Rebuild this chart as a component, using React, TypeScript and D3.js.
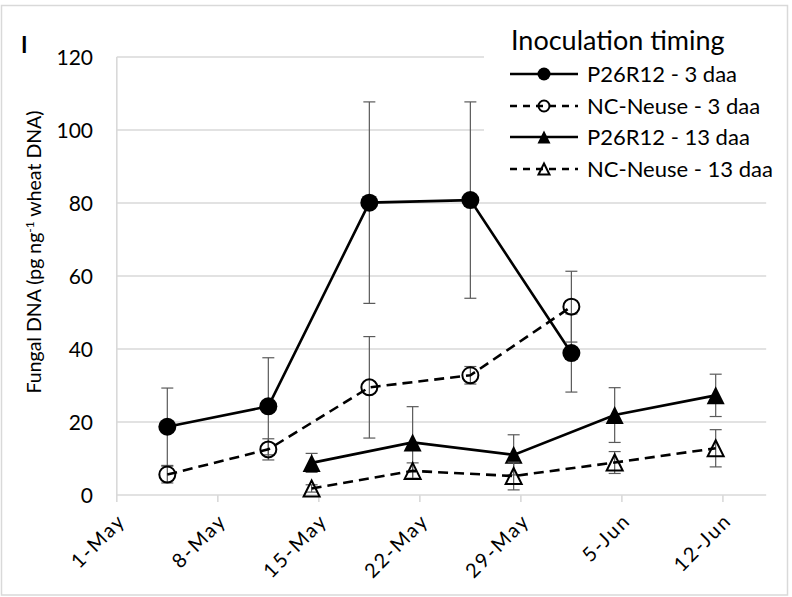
import React from "react";
import * as d3 from "d3";

// Sampling dates (one series set per inoculation timing)
const dates3daa = ["2019-05-04", "2019-05-11", "2019-05-18", "2019-05-25", "2019-06-01"];
const dates13daa = ["2019-05-14", "2019-05-21", "2019-05-28", "2019-06-04", "2019-06-11"];

// Fungal DNA means and standard errors
const p26r12_3 = [18.7, 24.3, 80.1, 80.8, 38.9];
const p26r12_3_se = [10.6, 13.3, 27.6, 26.9, 10.7];
const ncNeuse_3 = [5.6, 12.5, 29.5, 32.8, 51.6];
const ncNeuse_3_se = [2.3, 2.9, 13.9, 2.4, 9.7];
const p26r12_13 = [8.8, 14.4, 11.0, 21.9, 27.3];
const p26r12_13_se = [2.6, 9.8, 5.5, 7.5, 5.8];
const ncNeuse_13 = [1.8, 6.6, 5.2, 8.9, 12.8];
const ncNeuse_13_se = [1.0, 2.2, 3.8, 3.0, 5.1];

const seriesLabels = ["P26R12 - 3 daa", "NC-Neuse - 3 daa", "P26R12 - 13 daa", "NC-Neuse - 13 daa"];
const yTicks = [0, 20, 40, 60, 80, 100, 120];
const xTickDates = ["2019-05-01", "2019-05-08", "2019-05-15", "2019-05-22", "2019-05-29", "2019-06-05", "2019-06-12"];
const xDomain = ["2019-05-01", "2019-06-15"];

const W = 792;
const H = 597;
const FONT = "Lato, 'Open Sans', sans-serif";

type Series = {
  label: string;
  dates: string[];
  values: number[];
  se: number[];
  marker: "circle" | "triangle";
  filled: boolean;
  dashed: boolean;
};

const series: Series[] = [
  { label: seriesLabels[0], dates: dates3daa, values: p26r12_3, se: p26r12_3_se, marker: "circle", filled: true, dashed: false },
  { label: seriesLabels[1], dates: dates3daa, values: ncNeuse_3, se: ncNeuse_3_se, marker: "circle", filled: false, dashed: true },
  { label: seriesLabels[2], dates: dates13daa, values: p26r12_13, se: p26r12_13_se, marker: "triangle", filled: true, dashed: false },
  { label: seriesLabels[3], dates: dates13daa, values: ncNeuse_13, se: ncNeuse_13_se, marker: "triangle", filled: false, dashed: true },
];

const parse = (s: string) => new Date(s + "T00:00:00Z");
const fmt = d3.utcFormat("%-d-%b");

function Marker({ kind, filled, cx, cy, size }: { kind: string; filled: boolean; cx: number; cy: number; size: number }) {
  const sw = 2;
  if (kind === "circle") {
    const r = filled ? size / 2 : size / 2 - sw / 2;
    return <circle cx={cx} cy={cy} r={r} fill={filled ? "#000" : "none"} stroke={filled ? "none" : "#000"} strokeWidth={sw} />;
  }
  const h = filled ? size : size - sw;
  const w = filled ? size : size - sw;
  const p = d3.path();
  p.moveTo(cx, cy - h / 2);
  p.lineTo(cx + w / 2, cy + h / 2);
  p.lineTo(cx - w / 2, cy + h / 2);
  p.closePath();
  return <path d={p.toString()} fill={filled ? "#000" : "none"} stroke={filled ? "none" : "#000"} strokeWidth={sw} strokeLinejoin="miter" />;
}

export default function App() {
  const x = d3.scaleUtc().domain(xDomain.map(parse)).range([116.8, 766.2]);
  const y = d3.scaleLinear().domain([0, 120]).range([495, 57]);
  // points sit in the middle of their day
  const px = (s: string) => x(d3.utcHour.offset(parse(s), 12));

  const line = d3
    .line<[number, number]>()
    .x((d) => d[0])
    .y((d) => d[1]);

  const legendX = 510;
  const legendRows = [74, 106, 137, 169];

  return (
    <div style={{ position: "fixed", left: 0, top: 0 }}>
      <svg width={W} height={H} style={{ display: "block", background: "#fff" }}>
        <rect x={1.5} y={5.5} width={786} height={589.5} fill="#fff" stroke="#d9d9d9" strokeWidth={1.5} />

        {/* horizontal gridlines */}
        {yTicks.map((t) => (
          <line key={t} x1={x.range()[0]} x2={x.range()[1]} y1={y(t)} y2={y(t)} stroke="#d9d9d9" strokeWidth={1.6} />
        ))}
        {/* vertical axis line */}
        <line x1={x.range()[0]} x2={x.range()[0]} y1={y(120)} y2={y(0)} stroke="#d9d9d9" strokeWidth={1.6} />
        {/* x tick marks */}
        {xTickDates.map((d) => (
          <line key={d} x1={x(parse(d))} x2={x(parse(d))} y1={y(0)} y2={y(0) + 7} stroke="#d9d9d9" strokeWidth={1.6} />
        ))}

        {/* y tick labels */}
        {yTicks.map((t) => (
          <text key={t} x={93} y={y(t)} dy="0.36em" textAnchor="end" fontFamily={FONT} fontSize={21} fill="#000">
            {t}
          </text>
        ))}

        {/* x tick labels */}
        {xTickDates.map((d) => {
          const tx = x(parse(d)) + 10;
          const ty = 522;
          return (
            <text key={d} transform={`translate(${tx},${ty}) rotate(-45)`} textAnchor="end" fontFamily={FONT} fontSize={20} fill="#000" letterSpacing={2}>
              {fmt(parse(d))}
            </text>
          );
        })}

        {/* y axis title */}
        <text transform={`translate(41,252) rotate(-90)`} textAnchor="middle" fontFamily={FONT} fontSize={19.5} fill="#000">
          Fungal DNA (pg ng
          <tspan dy={-7} fontSize={12}>-1</tspan>
          <tspan dy={7}> wheat DNA)</tspan>
        </text>

        {/* panel letter */}
        <text x={21} y={53} fontFamily={FONT} fontSize={22} fontWeight="bold" fill="#000">
          I
        </text>

        {/* series: error bars, lines, markers */}
        {series.map((s, si) => {
          const pts: [number, number][] = s.dates.map((d, i) => [px(d), y(s.values[i])]);
          return (
            <g key={si}>
              {s.dates.map((d, i) => {
                const cx = px(d);
                const hi = y(s.values[i] + s.se[i]);
                const lo = y(Math.max(0, s.values[i] - s.se[i]));
                return (
                  <g key={i} stroke="#5a5a5a" strokeWidth={1.2}>
                    <line x1={cx} x2={cx} y1={hi} y2={lo} />
                    <line x1={cx - 6} x2={cx + 6} y1={hi} y2={hi} />
                    <line x1={cx - 6} x2={cx + 6} y1={lo} y2={lo} />
                  </g>
                );
              })}
              <path d={line(pts) || ""} fill="none" stroke="#000" strokeWidth={2.6} strokeDasharray={s.dashed ? "10,6" : undefined} />
              {pts.map((p, i) => (
                <Marker key={i} kind={s.marker} filled={s.filled} cx={p[0]} cy={p[1]} size={18} />
              ))}
            </g>
          );
        })}

        {/* legend */}
        <rect x={484} y={14} width={300} height={180} fill="#fff" />
        <text x={511} y={50} fontFamily={FONT} fontSize={27} fill="#000">
          Inoculation timing
        </text>
        {series.map((s, i) => {
          const ry = legendRows[i];
          return (
            <g key={i}>
              <line x1={legendX} x2={legendX + 68} y1={ry} y2={ry} stroke="#000" strokeWidth={2.6} strokeDasharray={s.dashed ? "7,6" : undefined} />
              <Marker kind={s.marker} filled={s.filled} cx={legendX + 34} cy={ry} size={13} />
              <text x={587} y={ry} dy="0.36em" fontFamily={FONT} fontSize={22} fill="#000">
                {s.label}
              </text>
            </g>
          );
        })}
      </svg>
    </div>
  );
}
